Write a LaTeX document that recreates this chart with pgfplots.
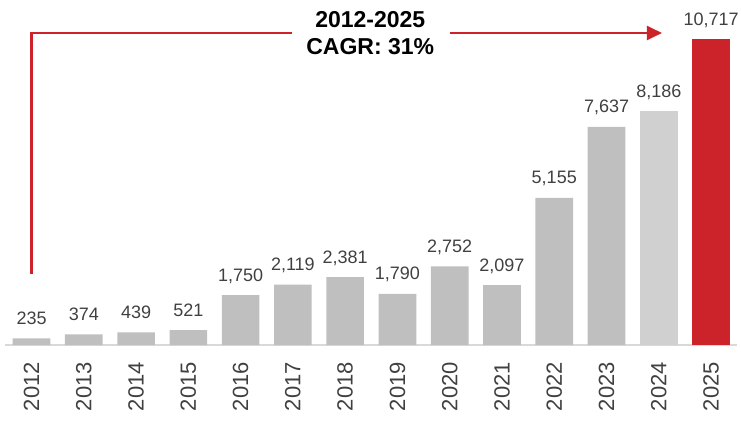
\documentclass[border=0pt]{standalone}
\usepackage{pgfplots}
\pgfplotsset{compat=1.18}
\usepackage{fontspec}
\setmainfont{Liberation Sans}
\usetikzlibrary{arrows.meta}
\definecolor{bargray}{HTML}{BFBFBF}
\definecolor{lightgray}{HTML}{D0D0D0}
\definecolor{cagrred}{HTML}{CC2229}
\definecolor{labelgray}{HTML}{404040}
\definecolor{axisgray}{HTML}{D9D9D9}
\begin{document}
\begin{tikzpicture}
\begin{axis}[
    at={(0,0)}, anchor=south west,
    scale only axis, width=731.8pt, height=345pt,
    xmin=-0.5, xmax=13.5, ymin=0, ymax=12084,
    axis x line*=bottom, axis y line=none,
    x axis line style={axisgray, line width=1.2pt},
    xtick={0,...,13},
    xticklabels={2012,2013,2014,2015,2016,2017,2018,2019,2020,2021,2022,2023,2024,2025},
    major tick length=0pt,
    xticklabel shift=17pt,
    xticklabel style={rotate=90, anchor=east, inner sep=0pt, text=labelgray,
        font=\fontsize{22}{26}\selectfont},
    ybar, bar shift=0pt, bar width=0.72,
    nodes near coords,
    every node near coord/.append style={anchor=base, yshift=14pt, inner sep=0pt,
        text=labelgray, font=\fontsize{18}{22}\selectfont,
        /pgf/number format/1000 sep={,}, /pgf/number format/assume math mode=true},
    clip=false,
]
\addplot[fill=bargray, draw=none] coordinates {
(0,235) (1,374) (2,439) (3,521) (4,1750) (5,2119) (6,2381)
(7,1790) (8,2752) (9,2097) (10,5155) (11,7637)
};
\addplot[fill=lightgray, draw=none] coordinates {(12,8186)};
\addplot[fill=cagrred, draw=none] coordinates {(13,10717)};
% CAGR annotation
\draw[cagrred, line width=2.5pt] (axis cs:0,2487) |- (axis cs:4.98,10928);
\draw[cagrred, line width=2.5pt, -{Triangle[length=15pt,width=14pt]}]
    (axis cs:8.01,10928) -- (axis cs:12.06,10928);
\node[align=center, font=\bfseries\fontsize{23}{27}\selectfont, text=black]
    at (axis cs:6.48,10928) {2012-2025\\CAGR: 31\%};
\end{axis}
\pgfresetboundingbox
\path (-5.4pt,-75pt) rectangle (735.6pt,345pt);
\end{tikzpicture}
\end{document}
